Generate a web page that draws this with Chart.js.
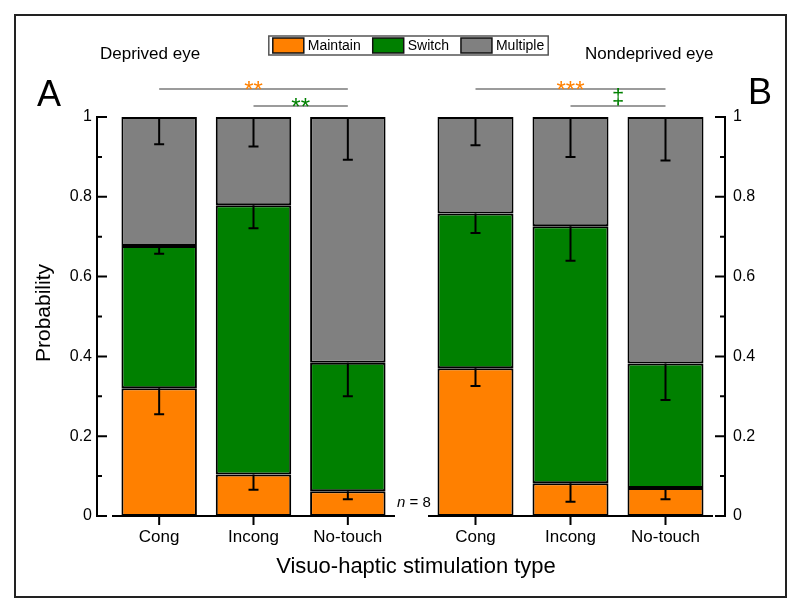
<!DOCTYPE html>
<html>
<head>
<meta charset="utf-8">
<script src="https://cdn.jsdelivr.net/npm/chart.js@4.4.0/dist/chart.umd.min.js"></script>
<style>
  body { margin: 0; background: #fff; }
  #wrap { position: relative; width: 800px; height: 612px; }
  #wrap canvas { position: absolute; left: 0; top: 0; }
</style>
</head>
<body>
<div id="wrap">
  <canvas id="leftChart" width="800" height="612"></canvas>
  <canvas id="rightChart" width="800" height="612"></canvas>
</div>
<script>
const categories = ['Cong', 'Incong', 'No-touch'];
const seriesNames = ['Maintain', 'Switch', 'Multiple'];
const seriesColors = ['#FF8000', '#008000', '#808080'];

// deprived eye (panel A), segment heights
const deprivedMaintain = [0.32, 0.104, 0.062];
const deprivedSwitch = [0.357, 0.675, 0.322];
const deprivedMultiple = [0.323, 0.221, 0.616];
const deprivedMaintainErr = [0.065, 0.038, 0.02];
const deprivedSwitchErr = [0.02, 0.058, 0.084];
const deprivedMultipleErr = [0.068, 0.074, 0.107];

// nondeprived eye (panel B)
const nondeprivedMaintain = [0.37, 0.082, 0.07];
const nondeprivedSwitch = [0.388, 0.644, 0.312];
const nondeprivedMultiple = [0.242, 0.274, 0.618];
const nondeprivedMaintainErr = [0.044, 0.046, 0.028];
const nondeprivedSwitchErr = [0.049, 0.086, 0.091];
const nondeprivedMultipleErr = [0.071, 0.100, 0.109];

// significance bars: from/to are category indexes
const deprivedSig = [
  { from: 0, to: 2, text: '**', color: '#FF8000', row: 0 },
  { from: 1, to: 2, text: '**', color: '#008000', row: 1 },
];
const nondeprivedSig = [
  { from: 0, to: 2, text: '***', color: '#FF8000', row: 0 },
  { from: 1, to: 2, text: '\u2021', color: '#008000', row: 1 },
];

const FONT = 'Arial, "Liberation Sans", sans-serif';

function makeDatasets(values) {
  return values.map((vals, i) => ({
    label: seriesNames[i],
    data: vals,
    backgroundColor: seriesColors[i],
    borderColor: '#000',
    borderWidth: 2,
    borderSkipped: false,
    barPercentage: 0.8,
    categoryPercentage: 1.0,
  }));
}

function panelPlugin(cfg) {
  return {
    id: 'panel_' + cfg.side,
    afterDatasetsDraw(chart) {
      const ctx = chart.ctx;
      const xs = chart.scales.x;
      const ys = chart.scales.y;
      const area = chart.chartArea;
      ctx.save();

      // error bars (downward half only)
      ctx.strokeStyle = '#000';
      ctx.lineWidth = 2;
      const cum = categories.map(() => 0);
      chart.data.datasets.forEach((ds, i) => {
        const meta = chart.getDatasetMeta(i);
        meta.data.forEach((bar, j) => {
          cum[j] += ds.data[j];
          const top = ys.getPixelForValue(cum[j]);
          const low = ys.getPixelForValue(cum[j] - cfg.errors[i][j]);
          ctx.beginPath();
          ctx.moveTo(bar.x, top);
          ctx.lineTo(bar.x, low);
          ctx.moveTo(bar.x - 5, low);
          ctx.lineTo(bar.x + 5, low);
          ctx.stroke();
        });
      });

      // y axis, offset from the plot, ticks pointing inward
      const axisX = cfg.side === 'left' ? area.left - 15 : area.right + 12;
      const dir = cfg.side === 'left' ? 1 : -1;
      ctx.strokeStyle = '#000';
      ctx.lineWidth = 2;
      ctx.beginPath();
      ctx.moveTo(axisX, ys.getPixelForValue(0) + 1);
      ctx.lineTo(axisX, ys.getPixelForValue(1) - 1);
      for (let k = 0; k <= 10; k++) {
        const py = ys.getPixelForValue(k / 10);
        ctx.moveTo(axisX, py);
        ctx.lineTo(axisX + dir * (k % 2 ? 5 : 10), py);
      }
      ctx.stroke();

      // x axis line with downward ticks
      const base = ys.getPixelForValue(0);
      ctx.beginPath();
      ctx.moveTo(area.left, base);
      ctx.lineTo(area.right, base);
      categories.forEach((c, j) => {
        const px = xs.getPixelForValue(j);
        ctx.moveTo(px, base);
        ctx.lineTo(px, base + 9);
      });
      ctx.stroke();

      // significance lines
      cfg.sig.forEach(s => {
        const x1 = xs.getPixelForValue(s.from);
        const x2 = xs.getPixelForValue(s.to);
        const ly = 89 + s.row * 17;
        ctx.strokeStyle = '#7a7a7a';
        ctx.lineWidth = 1.5;
        ctx.beginPath();
        ctx.moveTo(x1, ly);
        ctx.lineTo(x2, ly);
        ctx.stroke();
        ctx.fillStyle = s.color;
        ctx.textAlign = 'center';
        ctx.textBaseline = 'alphabetic';
        if (s.text === '\u2021') {
          ctx.font = '22px ' + FONT;
          ctx.fillText(s.text, (x1 + x2) / 2, ly - 2);
        } else {
          ctx.font = '24px ' + FONT;
          ctx.fillText(s.text, (x1 + x2) / 2, ly + 9);
        }
      });

      ctx.restore();
    }
  };
}

const decorPlugin = {
  id: 'decor',
  afterDraw(chart) {
    const ctx = chart.ctx;
    ctx.save();
    // outer frame
    ctx.strokeStyle = '#222';
    ctx.lineWidth = 2;
    ctx.strokeRect(15, 15, 771, 582);

    ctx.fillStyle = '#000';
    ctx.textBaseline = 'alphabetic';
    ctx.textAlign = 'left';
    ctx.font = '17px ' + FONT;
    ctx.fillText('Deprived eye', 100, 59);
    ctx.fillText('Nondeprived eye', 585, 59);

    ctx.font = '36px ' + FONT;
    ctx.fillText('A', 37, 106);
    ctx.fillText('B', 748, 104);

    // n = 8
    ctx.font = 'italic 15px ' + FONT;
    ctx.fillText('n', 397, 507);
    const nw = ctx.measureText('n').width;
    ctx.font = '15px ' + FONT;
    ctx.fillText(' = 8', 397 + nw, 507);

    // axis titles
    ctx.font = '22px ' + FONT;
    ctx.textAlign = 'center';
    ctx.fillText('Visuo-haptic stimulation type', 416, 573);
    ctx.save();
    ctx.translate(50, 313);
    ctx.rotate(-Math.PI / 2);
    ctx.font = '21px ' + FONT;
    ctx.fillText('Probability', 0, 0);
    ctx.restore();

    // legend box
    ctx.font = '14px ' + FONT;
    ctx.textAlign = 'left';
    const sw = 31, sh = 15, gapText = 4, gapItem = 12, pad = 4;
    const widths = chart.data.datasets.map(ds => ctx.measureText(ds.label).width);
    let total = pad * 2;
    widths.forEach((w, i) => { total += sw + gapText + w + (i < widths.length - 1 ? gapItem : 0); });
    const bx = 408.5 - total / 2, by = 36, bh = 19;
    ctx.fillStyle = '#fff';
    ctx.fillRect(bx, by, total, bh);
    ctx.strokeStyle = '#555';
    ctx.lineWidth = 1.5;
    ctx.strokeRect(bx, by, total, bh);
    let cx = bx + pad;
    chart.data.datasets.forEach((ds, i) => {
      ctx.fillStyle = ds.backgroundColor;
      ctx.fillRect(cx, by + 2, sw, sh);
      ctx.strokeStyle = '#111';
      ctx.lineWidth = 1.5;
      ctx.strokeRect(cx, by + 2, sw, sh);
      cx += sw + gapText;
      ctx.fillStyle = '#000';
      ctx.textBaseline = 'middle';
      ctx.fillText(ds.label, cx, by + bh / 2 + 1);
      cx += widths[i] + gapItem;
    });
    ctx.restore();
  }
};

function panelOptions(side) {
  return {
    responsive: false,
    animation: false,
    events: [],
    layout: {
      padding: side === 'left'
        ? { left: 0, right: 405, top: 117, bottom: 0 }
        : { left: 428, right: 0, top: 117, bottom: 0 }
    },
    plugins: {
      legend: { display: false },
      tooltip: { enabled: false },
    },
    scales: {
      x: {
        stacked: true,
        grid: { display: false, drawTicks: false },
        border: { display: false },
        ticks: { color: '#000', font: { size: 17, family: FONT }, padding: 11 },
        afterFit(scale) { scale.height = 96; },
      },
      y: {
        stacked: true,
        position: side,
        min: 0,
        max: 1,
        grid: { display: false, drawTicks: false },
        border: { display: false },
        ticks: {
          stepSize: 0.2,
          color: '#000',
          font: { size: 16, family: FONT },
          padding: 20,
          callback: v => String(Number(v.toFixed(1))),
        },
        afterFit(scale) { scale.width = side === 'left' ? 112 : 87; },
      },
    },
  };
}

new Chart(document.getElementById('leftChart'), {
  type: 'bar',
  data: {
    labels: categories,
    datasets: makeDatasets([deprivedMaintain, deprivedSwitch, deprivedMultiple]),
  },
  options: panelOptions('left'),
  plugins: [
    panelPlugin({
      side: 'left',
      errors: [deprivedMaintainErr, deprivedSwitchErr, deprivedMultipleErr],
      sig: deprivedSig,
    }),
    decorPlugin,
  ],
});

new Chart(document.getElementById('rightChart'), {
  type: 'bar',
  data: {
    labels: categories,
    datasets: makeDatasets([nondeprivedMaintain, nondeprivedSwitch, nondeprivedMultiple]),
  },
  options: panelOptions('right'),
  plugins: [
    panelPlugin({
      side: 'right',
      errors: [nondeprivedMaintainErr, nondeprivedSwitchErr, nondeprivedMultipleErr],
      sig: nondeprivedSig,
    }),
  ],
});
</script>
</body>
</html>
